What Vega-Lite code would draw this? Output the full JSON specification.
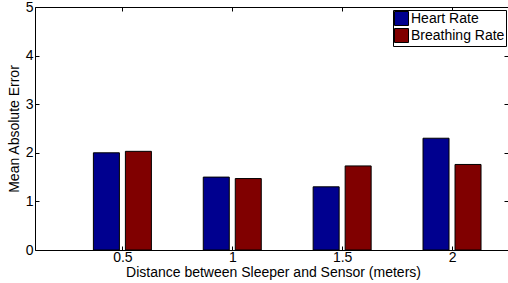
{
  "$schema": "https://vega.github.io/schema/vega-lite/v6.json",
  "autosize": "none",
  "padding": {"left": 35, "top": 7, "right": 0, "bottom": 33},
  "width": 473,
  "height": 243,
  "background": "white",
  "config": {
    "view": {"stroke": "black", "strokeWidth": 1},
    "font": "Liberation Sans",
    "axis": {"grid": false, "domain": false, "tickColor": "black", "labelColor": "black", "titleColor": "black", "labelFont": "Liberation Sans", "titleFont": "Liberation Sans", "labelFontSize": 14, "titleFontSize": 14, "titleFontWeight": "normal"}
  },
  "data": {"values": [
    {"distance": 0.5, "series": "Heart Rate", "mae": 2.0},
    {"distance": 0.5, "series": "Breathing Rate", "mae": 2.03},
    {"distance": 1, "series": "Heart Rate", "mae": 1.5},
    {"distance": 1, "series": "Breathing Rate", "mae": 1.47},
    {"distance": 1.5, "series": "Heart Rate", "mae": 1.3},
    {"distance": 1.5, "series": "Breathing Rate", "mae": 1.73},
    {"distance": 2, "series": "Heart Rate", "mae": 2.3},
    {"distance": 2, "series": "Breathing Rate", "mae": 1.76}
  ]},
  "layer": [
    {
      "transform": [{"filter": "datum.series === 'Heart Rate'"}],
      "mark": {"type": "bar", "width": 26, "xOffset": -16, "stroke": "black", "strokeWidth": 1},
      "encoding": {
        "x": {"field": "distance", "type": "quantitative", "scale": {"domain": [0.125, 2.232], "nice": false, "zero": false},
              "axis": {"orient": "bottom", "values": [0.5, 1, 1.5, 2], "tickSize": -4, "labelPadding": 4, "title": "Distance between Sleeper and Sensor (meters)", "titlePadding": 1, "titleX": 238, "labelExpr": "datum.value"}},
        "y": {"field": "mae", "type": "quantitative", "scale": {"domain": [0, 5], "nice": false},
              "axis": {"orient": "left", "values": [0, 1, 2, 3, 4, 5], "tickSize": -4, "labelPadding": 6, "title": "Mean Absolute Error", "titlePadding": 4}},
        "color": {"field": "series", "type": "nominal", "scale": {"domain": ["Heart Rate", "Breathing Rate"], "range": ["#00008F", "#800000"]},
                  "legend": {"title": null, "orient": "none", "legendX": 358, "legendY": 3, "direction": "vertical", "strokeColor": "black", "fillColor": "white", "padding": 1, "symbolType": "square", "symbolSize": 196, "symbolStrokeColor": "black", "symbolStrokeWidth": 1, "symbolOpacity": 1, "labelFontSize": 14, "labelFont": "Liberation Sans", "labelColor": "black", "rowPadding": -5, "labelOffset": 2}}
      }
    },
    {
      "transform": [{"filter": "datum.series === 'Breathing Rate'"}],
      "mark": {"type": "bar", "width": 26, "xOffset": 16, "stroke": "black", "strokeWidth": 1},
      "encoding": {
        "x": {"field": "distance", "type": "quantitative", "axis": {"orient": "top", "values": [0.5, 1, 1.5, 2], "tickSize": -4, "labels": false, "title": null}},
        "y": {"field": "mae", "type": "quantitative", "axis": {"orient": "right", "values": [0, 1, 2, 3, 4, 5], "tickSize": -4, "labels": false, "title": null}},
        "color": {"field": "series", "type": "nominal"}
      }
    }
  ],
  "resolve": {"axis": {"x": "independent", "y": "independent"}}
}
